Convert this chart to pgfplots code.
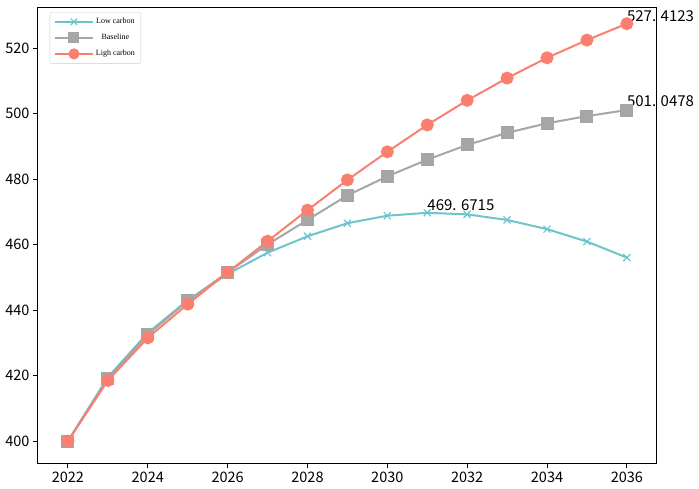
\documentclass[border=0pt]{standalone}
\usepackage{pgfplots}
\pgfplotsset{compat=1.18}
\usepackage{fontspec}
\setmainfont{Liberation Serif}
\newfontfamily\cjk{Noto Sans CJK SC}
\definecolor{cyanc}{RGB}{108,197,203}
\definecolor{grayc}{RGB}{166,166,166}
\definecolor{redc}{RGB}{250,127,111}
\begin{document}
\begin{tikzpicture}
\begin{axis}[
  scale only axis,
  width=618pt, height=455pt,
  xmin=2021.25, xmax=2036.73,
  ymin=393.3, ymax=532.2,
  xtick={2022,2024,...,2036},
  ytick={400,420,...,520},
  /pgf/number format/1000 sep={},
  /pgf/number format/assume math mode=true,
  tick label style={font=\cjk\fontsize{14.5}{16}\selectfont},
  tick align=outside,
  xtick pos=bottom, ytick pos=left,
  major tick length=5pt,
  tick style={black, line width=0.9pt},
  axis line style={black, line width=1pt},
  legend style={at={(0.019,0.991)}, anchor=north west, font=\fontsize{8}{9}\selectfont,
    draw=black!20, rounded corners=2pt, row sep=5pt, inner sep=4pt},
  legend cell align=center,
  legend image code/.code={\draw[mark repeat=2,mark phase=2] plot coordinates {(0pt,0pt)(19pt,0pt)(38pt,0pt)};},
  legend image post style={mark size=4.5pt},
  clip=false,
]
\addplot[cyanc, line width=2pt, mark=x, mark size=5pt, mark options={line width=1.2pt}]
coordinates {(2022,400) (2023,419.5) (2024,433) (2025,443) (2026,451) (2027,457.5) (2028,462.5) (2029,466.5) (2030,468.8) (2031,469.67) (2032,469.2) (2033,467.5) (2034,464.7) (2035,460.9) (2036,456)};
\addlegendentry{Low carbon}
\addplot[grayc, line width=2pt, mark=square*, mark size=5.5pt]
coordinates {(2022,400) (2023,419) (2024,432.5) (2025,442.8) (2026,451.5) (2027,460) (2028,467.5) (2029,475) (2030,480.8) (2031,485.9) (2032,490.4) (2033,494.1) (2034,497) (2035,499.2) (2036,501.05)};
\addlegendentry{Baseline}
\addplot[redc, line width=2pt, mark=*, mark size=5.5pt]
coordinates {(2022,400) (2023,418.5) (2024,431.5) (2025,441.8) (2026,451.5) (2027,461) (2028,470.5) (2029,479.7) (2030,488.3) (2031,496.5) (2032,504) (2033,510.8) (2034,517) (2035,522.4) (2036,527.41)};
\addlegendentry{Ligh carbon}
\node[anchor=base west, inner sep=0pt, font=\cjk\fontsize{15}{17}\selectfont] at (axis cs:2036,528) {527. 4123};
\node[anchor=base west, inner sep=0pt, font=\cjk\fontsize{15}{17}\selectfont] at (axis cs:2036,502) {501. 0478};
\node[anchor=base west, inner sep=0pt, font=\cjk\fontsize{15}{17}\selectfont] at (axis cs:2031,470.5) {469. 6715};
\end{axis}
\path (current axis.south west) ++(-38pt,-25pt) coordinate (bbsw);
\path (current axis.north east) ++(43pt,8pt) coordinate (bbne);
\useasboundingbox (bbsw) rectangle (bbne);
\end{tikzpicture}
\end{document}
